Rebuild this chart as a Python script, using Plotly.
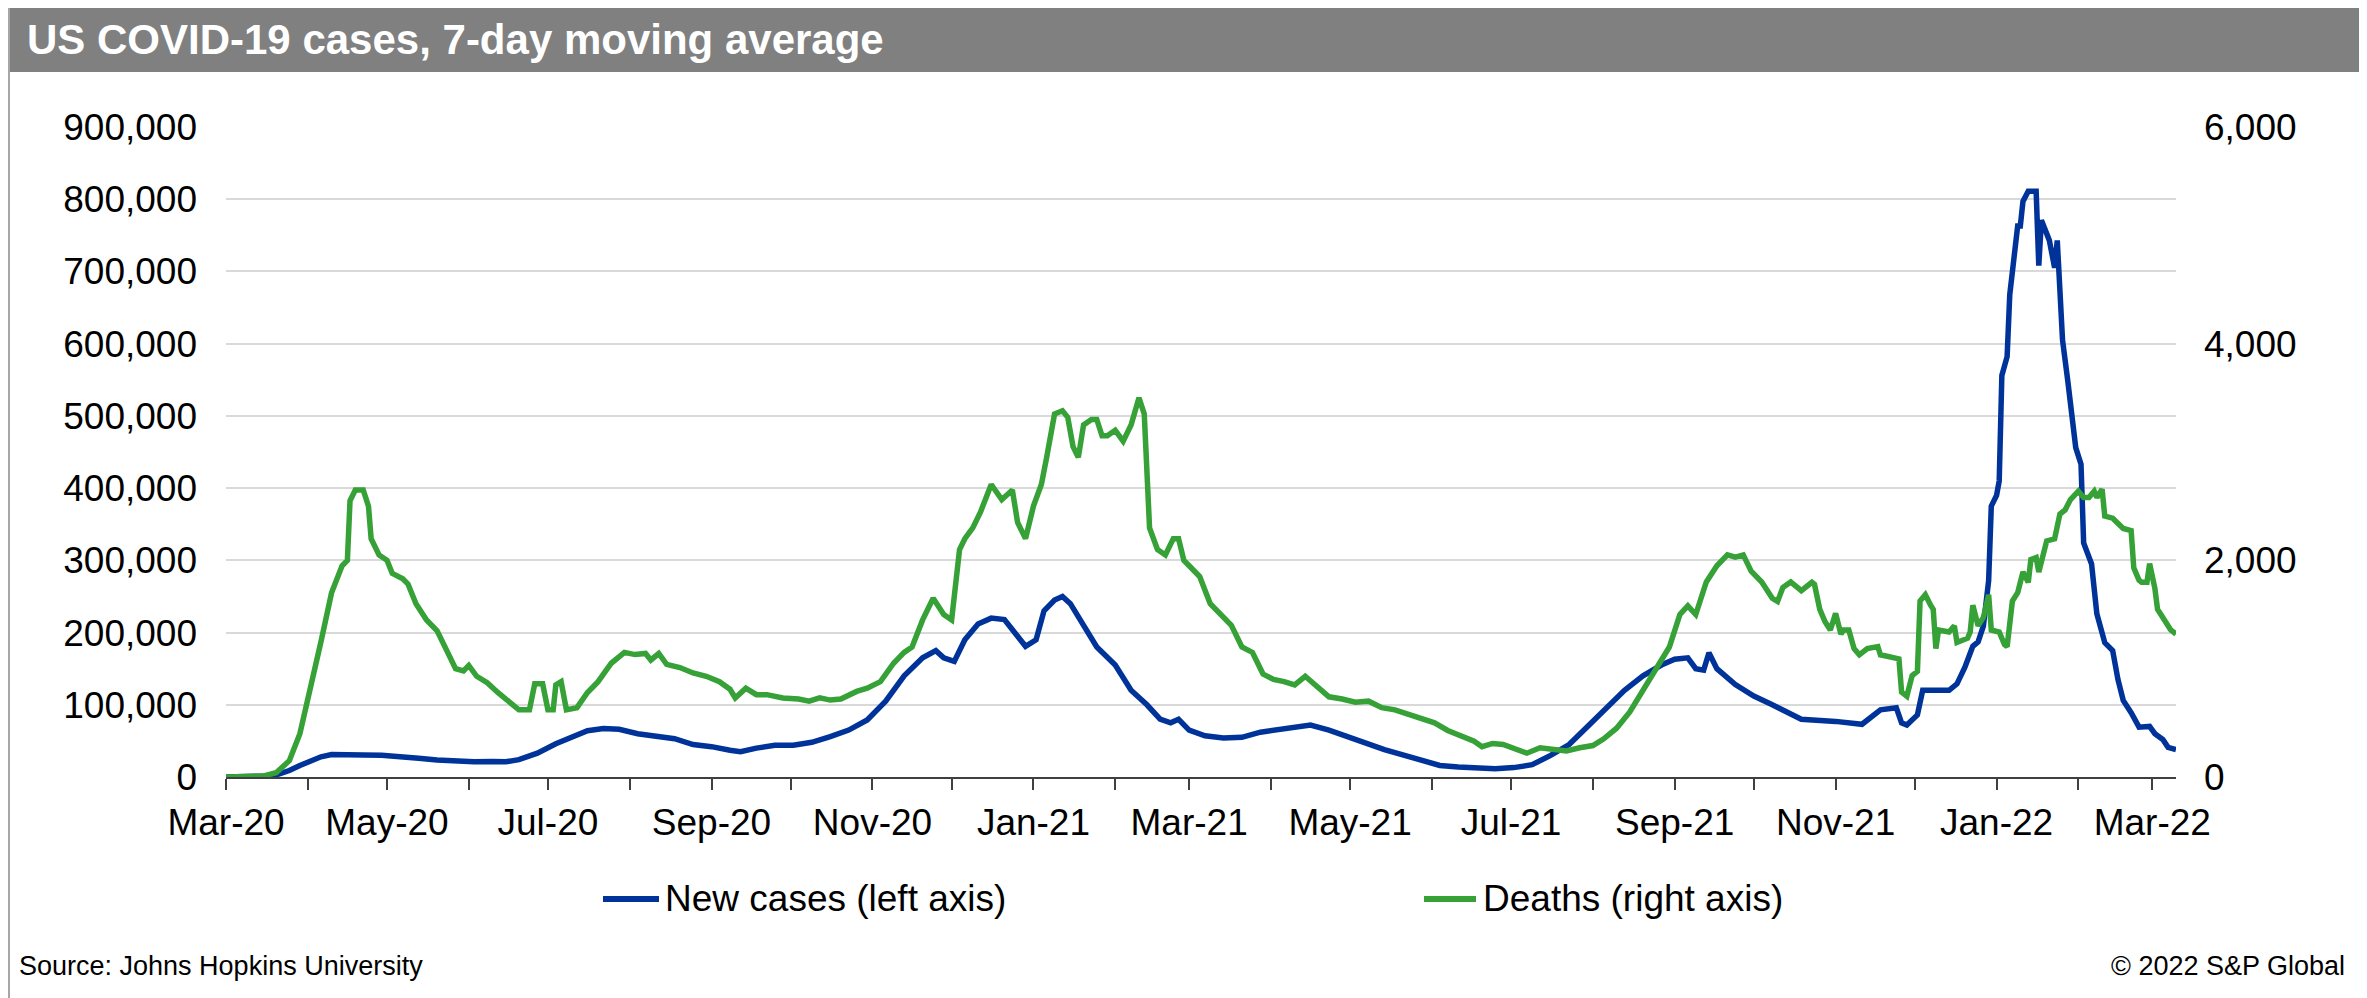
import plotly.graph_objects as go

# ---------------- data ----------------
case_dates = [
    "2020-03-01", "2020-03-10", "2020-03-17", "2020-03-21", "2020-03-25", "2020-03-29",
    "2020-04-02", "2020-04-06", "2020-04-10", "2020-04-15", "2020-04-22", "2020-04-29",
    "2020-05-06", "2020-05-13", "2020-05-20", "2020-05-27", "2020-06-03", "2020-06-10",
    "2020-06-15", "2020-06-20", "2020-06-27", "2020-07-04", "2020-07-10", "2020-07-16",
    "2020-07-22", "2020-07-28", "2020-08-04", "2020-08-11", "2020-08-18", "2020-08-25",
    "2020-09-01", "2020-09-08", "2020-09-12", "2020-09-18", "2020-09-25", "2020-10-02",
    "2020-10-09", "2020-10-16", "2020-10-23", "2020-10-30", "2020-11-06", "2020-11-13",
    "2020-11-20", "2020-11-25", "2020-11-28", "2020-12-02", "2020-12-06", "2020-12-11",
    "2020-12-16", "2020-12-21", "2020-12-25", "2020-12-29", "2021-01-02", "2021-01-05",
    "2021-01-09", "2021-01-12", "2021-01-15", "2021-01-20", "2021-01-25", "2021-02-01",
    "2021-02-07", "2021-02-13", "2021-02-18", "2021-02-22", "2021-02-25", "2021-03-01",
    "2021-03-07", "2021-03-14", "2021-03-21", "2021-03-28", "2021-04-04", "2021-04-11",
    "2021-04-16", "2021-04-23", "2021-04-30", "2021-05-07", "2021-05-14", "2021-05-21",
    "2021-05-28", "2021-06-04", "2021-06-11", "2021-06-18", "2021-06-25", "2021-07-02",
    "2021-07-09", "2021-07-16", "2021-07-23", "2021-07-30", "2021-08-06", "2021-08-13",
    "2021-08-20", "2021-08-27", "2021-09-01", "2021-09-06", "2021-09-09", "2021-09-12",
    "2021-09-14", "2021-09-17", "2021-09-24", "2021-10-01", "2021-10-08", "2021-10-15",
    "2021-10-19", "2021-11-01", "2021-11-11", "2021-11-18", "2021-11-24", "2021-11-26",
    "2021-11-28", "2021-12-02", "2021-12-04", "2021-12-14", "2021-12-17", "2021-12-20",
    "2021-12-23", "2021-12-25", "2021-12-27", "2021-12-29", "2021-12-30", "2022-01-01",
    "2022-01-02", "2022-01-03", "2022-01-05", "2022-01-06", "2022-01-09", "2022-01-10",
    "2022-01-11", "2022-01-13", "2022-01-16", "2022-01-17", "2022-01-18", "2022-01-21",
    "2022-01-23", "2022-01-24", "2022-01-26", "2022-01-28", "2022-01-29", "2022-01-31",
    "2022-02-02", "2022-02-03", "2022-02-06", "2022-02-08", "2022-02-11", "2022-02-14",
    "2022-02-16", "2022-02-18", "2022-02-21", "2022-02-24", "2022-02-28", "2022-03-02",
    "2022-03-05", "2022-03-07", "2022-03-10",
]
new_cases = [
    0, 500, 1500, 4000, 9000, 16000,
    23000, 28000, 31000, 31500, 30500, 30000,
    28500, 26000, 23500, 22000, 21000, 21500,
    21000, 24000, 33000, 46000, 55000, 64000,
    67000, 66000, 60000, 56000, 53000, 45000,
    42000, 37000, 35000, 40000, 44000, 44000,
    48000, 56000, 65000, 79000, 105000, 140000,
    165000, 175000, 165000, 160000, 190000, 212000,
    220000, 218000, 200000, 181000, 190000, 230000,
    245000, 250000, 240000, 210000, 180000, 155000,
    120000, 100000, 80000, 75000, 80000, 65000,
    57000, 54000, 55000, 62000, 66000, 70000,
    72000, 65000, 55000, 47000, 38000, 30000,
    23000, 16000, 14000, 12000, 11500, 13000,
    17000, 30000, 45000, 70000, 95000, 120000,
    140000, 155000, 163000, 165000, 150000, 148000,
    172000, 150000, 128000, 112000, 100000, 88000,
    80000, 77000, 73000, 93000, 96000, 75000,
    72000, 86000, 120000, 120000, 129000, 152000,
    181000, 187000, 209000, 272000, 375000, 390000,
    410000, 556000, 582000, 668000, 763000, 763000,
    797000, 811000, 811000, 708000, 771000, 743000,
    705000, 743000, 605000, 548000, 513000, 456000,
    433000, 324000, 295000, 226000, 186000, 175000,
    135000, 106000, 89000, 69000, 70000, 60000,
    52000, 41000, 38000,
]

death_dates = [
    "2020-03-01", "2020-03-15", "2020-03-20", "2020-03-25", "2020-03-29", "2020-04-02",
    "2020-04-06", "2020-04-10", "2020-04-14", "2020-04-16", "2020-04-17", "2020-04-19",
    "2020-04-22", "2020-04-24", "2020-04-25", "2020-04-28", "2020-05-01", "2020-05-03",
    "2020-05-07", "2020-05-09", "2020-05-12", "2020-05-16", "2020-05-20", "2020-05-24",
    "2020-05-27", "2020-05-30", "2020-06-01", "2020-06-04", "2020-06-08", "2020-06-12",
    "2020-06-16", "2020-06-20", "2020-06-24", "2020-06-26", "2020-06-29", "2020-07-01",
    "2020-07-03", "2020-07-04", "2020-07-06", "2020-07-08", "2020-07-12", "2020-07-16",
    "2020-07-20", "2020-07-25", "2020-07-30", "2020-08-03", "2020-08-07", "2020-08-09",
    "2020-08-12", "2020-08-15", "2020-08-20", "2020-08-25", "2020-08-30", "2020-09-04",
    "2020-09-08", "2020-09-10", "2020-09-14", "2020-09-18", "2020-09-22", "2020-09-28",
    "2020-10-04", "2020-10-08", "2020-10-12", "2020-10-16", "2020-10-20", "2020-10-26",
    "2020-10-30", "2020-11-04", "2020-11-09", "2020-11-13", "2020-11-16", "2020-11-20",
    "2020-11-24", "2020-11-28", "2020-12-01", "2020-12-04", "2020-12-06", "2020-12-09",
    "2020-12-12", "2020-12-16", "2020-12-20", "2020-12-24", "2020-12-26", "2020-12-29",
    "2021-01-01", "2021-01-04", "2021-01-06", "2021-01-09", "2021-01-12", "2021-01-14",
    "2021-01-16", "2021-01-18", "2021-01-20", "2021-01-23", "2021-01-25", "2021-01-27",
    "2021-01-29", "2021-02-01", "2021-02-04", "2021-02-07", "2021-02-10", "2021-02-12",
    "2021-02-14", "2021-02-17", "2021-02-20", "2021-02-23", "2021-02-25", "2021-02-27",
    "2021-03-01", "2021-03-05", "2021-03-09", "2021-03-13", "2021-03-17", "2021-03-21",
    "2021-03-25", "2021-03-29", "2021-04-02", "2021-04-06", "2021-04-10", "2021-04-14",
    "2021-04-18", "2021-04-23", "2021-04-28", "2021-05-03", "2021-05-08", "2021-05-13",
    "2021-05-18", "2021-05-23", "2021-05-28", "2021-06-02", "2021-06-07", "2021-06-12",
    "2021-06-17", "2021-06-20", "2021-06-24", "2021-06-28", "2021-07-02", "2021-07-07",
    "2021-07-12", "2021-07-17", "2021-07-22", "2021-07-27", "2021-08-01", "2021-08-05",
    "2021-08-10", "2021-08-15", "2021-08-20", "2021-08-25", "2021-08-30", "2021-09-03",
    "2021-09-06", "2021-09-09", "2021-09-13", "2021-09-17", "2021-09-21", "2021-09-24",
    "2021-09-27", "2021-09-30", "2021-10-04", "2021-10-08", "2021-10-10", "2021-10-12",
    "2021-10-15", "2021-10-19", "2021-10-23", "2021-10-24", "2021-10-26", "2021-10-28",
    "2021-10-30", "2021-11-01", "2021-11-03", "2021-11-04", "2021-11-06", "2021-11-08",
    "2021-11-10", "2021-11-13", "2021-11-17", "2021-11-18", "2021-11-22", "2021-11-25",
    "2021-11-26", "2021-11-28", "2021-11-30", "2021-12-02", "2021-12-03", "2021-12-05",
    "2021-12-07", "2021-12-08", "2021-12-09", "2021-12-10", "2021-12-14", "2021-12-16",
    "2021-12-17", "2021-12-21", "2021-12-22", "2021-12-23", "2021-12-25", "2021-12-27",
    "2021-12-29", "2021-12-30", "2022-01-02", "2022-01-04", "2022-01-05", "2022-01-07",
    "2022-01-09", "2022-01-11", "2022-01-13", "2022-01-14", "2022-01-16", "2022-01-17",
    "2022-01-20", "2022-01-23", "2022-01-25", "2022-01-27", "2022-01-29", "2022-02-01",
    "2022-02-03", "2022-02-05", "2022-02-07", "2022-02-08", "2022-02-10", "2022-02-11",
    "2022-02-14", "2022-02-16", "2022-02-18", "2022-02-21", "2022-02-22", "2022-02-24",
    "2022-02-25", "2022-02-27", "2022-02-28", "2022-03-02", "2022-03-03", "2022-03-05",
    "2022-03-06", "2022-03-08", "2022-03-10",
]
deaths = [
    0, 8, 40, 150, 400, 800,
    1250, 1700, 1950, 2000, 2550, 2650,
    2650, 2500, 2200, 2050, 2000, 1880,
    1830, 1780, 1600, 1450, 1350, 1150,
    1000, 980, 1030, 930, 870, 780,
    700, 620, 620, 860, 860, 620,
    620, 850, 880, 620, 640, 780,
    880, 1050, 1150, 1130, 1140, 1080,
    1140, 1040, 1010, 960, 930, 880,
    810, 730, 820, 760, 760, 730,
    720, 700, 730, 710, 720, 790,
    820, 880, 1050, 1150, 1200, 1450,
    1650, 1500, 1450, 2100, 2200, 2300,
    2450, 2700, 2560, 2650, 2350, 2200,
    2500, 2700, 2950, 3350, 3380, 3320,
    3050, 2950, 3250, 3300, 3300, 3150,
    3150, 3200, 3100, 3250, 3500, 3350,
    2300, 2100, 2050, 2200, 2200, 2000,
    1950, 1850, 1600, 1500, 1400, 1200,
    1150, 950, 900, 880, 850, 930,
    850, 740, 720, 690, 700, 640,
    620, 580, 530, 500, 430, 380,
    330, 280, 310, 300, 260, 220,
    270, 250, 240, 270, 290, 350,
    450, 600, 800, 1000, 1200, 1500,
    1580, 1500, 1800, 1950, 2050, 2030,
    2050, 1900, 1800, 1650, 1620, 1750,
    1800, 1720, 1797, 1778, 1548, 1433,
    1357, 1510, 1319, 1357, 1357, 1185,
    1128, 1185, 1204, 1128, 1109, 1090,
    784, 745, 937, 975, 1625, 1682,
    1586, 1548, 1185, 1357, 1338, 1395,
    1242, 1281, 1338, 1586, 1395, 1472,
    1682, 1357, 1338, 1223, 1204, 1625,
    1701, 1892, 1797, 2007, 2026, 1892,
    2179, 2198, 2428, 2466, 2561, 2638,
    2580, 2580, 2638, 2580, 2657, 2408,
    2389, 2332, 2294, 2275, 1930, 1816,
    1797, 1797, 1969, 1740, 1548, 1472,
    1433, 1357, 1319,
]

month_ticks = [
    "2020-03-01", "2020-04-01", "2020-05-01", "2020-06-01", "2020-07-01", "2020-08-01",
    "2020-09-01", "2020-10-01", "2020-11-01", "2020-12-01", "2021-01-01", "2021-02-01",
    "2021-03-01", "2021-04-01", "2021-05-01", "2021-06-01", "2021-07-01", "2021-08-01",
    "2021-09-01", "2021-10-01", "2021-11-01", "2021-12-01", "2022-01-01", "2022-02-01",
    "2022-03-01",
]
month_labels = [
    "Mar-20", "", "May-20", "", "Jul-20", "", "Sep-20", "", "Nov-20", "", "Jan-21", "",
    "Mar-21", "", "May-21", "", "Jul-21", "", "Sep-21", "", "Nov-21", "", "Jan-22", "",
    "Mar-22",
]
left_ticks = [0, 100000, 200000, 300000, 400000, 500000, 600000, 700000, 800000, 900000]
right_ticks = [0, 2000, 4000, 6000]
series_names = ["New cases (left axis)", "Deaths (right axis)"]

# ---------------- layout geometry ----------------
# target pixel positions in the screenshot; the page body adds an 8px offset
OFF = 8
W, H = 2367 - OFF, 998 - OFF
L, R, T, B = 226, 2176, 127, 777          # plot area in screenshot pixels
PW, PH = R - L, B - T


def px(x):
    return (x - L) / PW


def py(y):
    return (B - y) / PH


FONT = "Liberation Sans, Arial, Helvetica, sans-serif"
BLUE = "#003399"
GREEN = "#36a136"
LW = 5.5

fig = go.Figure()
fig.add_trace(go.Scatter(
    x=case_dates, y=new_cases, name=series_names[0], mode="lines",
    line=dict(color=BLUE, width=LW), yaxis="y", showlegend=False))
fig.add_trace(go.Scatter(
    x=death_dates, y=deaths, name=series_names[1], mode="lines",
    line=dict(color=GREEN, width=LW), yaxis="y2", showlegend=False))

legend_items = [(603, 659, 663, BLUE, series_names[0]),
                (1424, 1476, 1481, GREEN, series_names[1])]
LEG_Y = 899

shapes = [
    # title bar
    dict(type="rect", xref="paper", yref="paper",
         x0=px(0), x1=px(2367), y0=py(72), y1=py(1),
         fillcolor="#808080", line=dict(width=0), layer="below"),
    # outer frame (bottom edge lies just outside the picture)
    dict(type="rect", xref="paper", yref="paper",
         x0=px(9), x1=px(2365), y0=py(1002), y1=py(2),
         fillcolor="rgba(0,0,0,0)", line=dict(color="#a6a6a6", width=2)),
]
annotations = [
    dict(text="<b>US COVID-19 cases, 7-day moving average</b>",
         xref="paper", yref="paper", x=px(25), y=py(40),
         xanchor="left", yanchor="middle", showarrow=False,
         font=dict(family=FONT, size=42, color="white")),
    dict(text="Source: Johns Hopkins University",
         xref="paper", yref="paper", x=px(17), y=py(966),
         xanchor="left", yanchor="middle", showarrow=False,
         font=dict(family=FONT, size=27, color="black")),
    dict(text="© 2022 S&P Global",
         xref="paper", yref="paper", x=px(2347), y=py(966),
         xanchor="right", yanchor="middle", showarrow=False,
         font=dict(family=FONT, size=27, color="black")),
]
for x0, x1, xt, col, name in legend_items:
    shapes.append(dict(type="line", xref="paper", yref="paper",
                       x0=px(x0), x1=px(x1), y0=py(LEG_Y), y1=py(LEG_Y),
                       line=dict(color=col, width=6)))
    annotations.append(dict(text=name, xref="paper", yref="paper",
                            x=px(xt), y=py(LEG_Y), xanchor="left", yanchor="middle",
                            showarrow=False,
                            font=dict(family=FONT, size=37, color="black")))

fig.update_layout(
    width=W, height=H,
    margin=dict(l=L - OFF, r=W - (R - OFF), t=T - OFF, b=H - (B - OFF), pad=0,
                autoexpand=False),
    paper_bgcolor="white", plot_bgcolor="white",
    font=dict(family=FONT, size=37, color="black"),
    showlegend=False,
    xaxis=dict(
        type="date", range=["2020-03-01", "2022-03-10"],
        tickmode="array", tickvals=month_ticks, ticktext=month_labels,
        showgrid=False, zeroline=False,
        showline=True, linecolor="#404040", linewidth=2,
        ticks="outside", ticklen=11, tickwidth=2, tickcolor="#404040",
        tickfont=dict(family=FONT, size=37, color="black"),
        ticklabelstandoff=1,
    ),
    yaxis=dict(
        range=[0, 900000], tickmode="array", tickvals=left_ticks,
        tickformat=",", showgrid=True, gridcolor="#d9d9d9", gridwidth=2,
        zeroline=False, showline=False, ticks="",
        tickfont=dict(family=FONT, size=37, color="black"),
        ticklabelstandoff=28,
    ),
    yaxis2=dict(
        range=[0, 6000], overlaying="y", side="right", tickmode="array",
        tickvals=right_ticks, tickformat=",", showgrid=False, zeroline=False,
        showline=False, ticks="",
        tickfont=dict(family=FONT, size=37, color="black"),
        ticklabelstandoff=27,
    ),
    shapes=shapes,
    annotations=annotations,
)

fig.write_html("out.html")
